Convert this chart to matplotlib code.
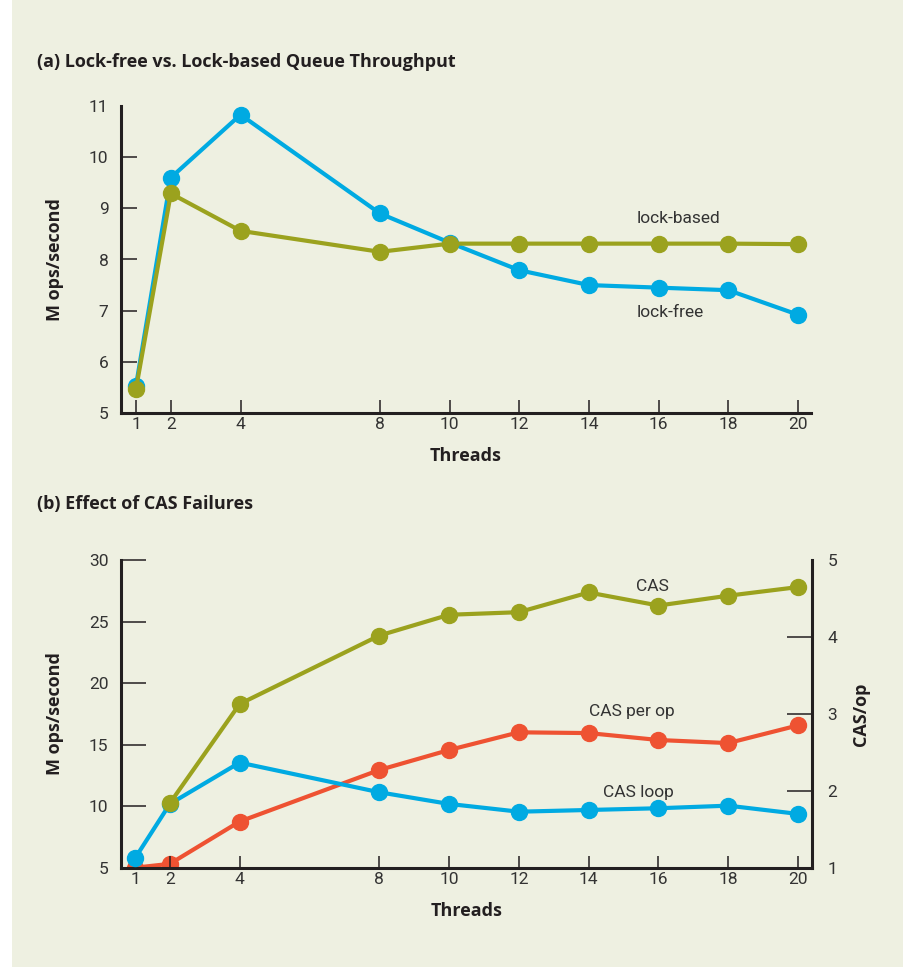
import matplotlib
matplotlib.use("Agg")
import matplotlib.pyplot as plt
from matplotlib.patches import Rectangle

# ---- data ----
threads = [1, 2, 4, 8, 10, 12, 14, 16, 18, 20]
lock_free = [5.53, 9.6, 10.83, 8.9, 8.33, 7.79, 7.5, 7.45, 7.4, 6.92]
lock_based = [5.47, 9.29, 8.56, 8.15, 8.31, 8.31, 8.31, 8.31, 8.31, 8.3]

cas = [float('nan'), 10.24, 18.3, 23.86, 25.55, 25.76, 27.36, 26.3, 27.1, 27.8]
cas_loop = [5.76, 10.18, 13.54, 11.13, 10.18, 9.55, 9.69, 9.83, 10.04, 9.37]
cas_per_op = [1.0, 1.05, 1.6, 2.27, 2.53, 2.76, 2.75, 2.66, 2.62, 2.85]

top_yticks = [5, 6, 7, 8, 9, 10, 11]
bot_yticks = [5, 10, 15, 20, 25, 30]
right_yticks = [1, 2, 3, 4, 5]

BG = "#EEF0E1"
BLUE = "#00AAE2"
GREEN = "#9BA21E"
RED = "#EE5232"
INK = "#231F20"
TXT = "#333333"

plt.rcParams['font.family'] = ['Roboto', 'DejaVu Sans']
BOLD = dict(family=['Open Sans', 'DejaVu Sans'], fontweight='bold', fontsize=13, color=INK)
TICKFS = 12.5

fig = plt.figure(figsize=(9.04, 9.67), dpi=100)
fig.patches.append(Rectangle((12 / 904, 0), 1 - 12 / 904, 1, transform=fig.transFigure,
                             facecolor=BG, edgecolor='none', zorder=-10))

W, H = 904, 967


def ax_rect(l, r, t, b):
    return [l / W, 1 - b / H, (r - l) / W, (b - t) / H]


def style(ax, ylen, xlen):
    ax.set_facecolor('none')
    for s in ['top', 'right']:
        ax.spines[s].set_visible(False)
    for s in ['left', 'bottom']:
        ax.spines[s].set_linewidth(2.2)
        ax.spines[s].set_color(INK)
    ax.tick_params(axis='y', direction='in', length=ylen, width=1.1, color=INK,
                   labelsize=TICKFS, labelcolor=TXT, pad=9)
    ax.tick_params(axis='x', direction='in', length=xlen, width=1.1, color=INK,
                   labelsize=TICKFS, labelcolor=TXT, pad=3)


# ---------- top ----------
ax1 = fig.add_axes(ax_rect(121, 811, 106, 413))
ax1.plot(threads, lock_free, color=BLUE, lw=3, marker='o', ms=11.5, zorder=3)
ax1.plot(threads, lock_based, color=GREEN, lw=3, marker='o', ms=11.5, zorder=4)
ax1.set_xlim(0.57, 20.37)
ax1.set_ylim(5, 11)
ax1.set_xticks(threads)
ax1.set_yticks(top_yticks)
style(ax1, 11.5, 9.4)
yt = ax1.yaxis.get_major_ticks()
yt[0].tick1line.set_visible(False)
yt[-1].tick1line.set_visible(False)
ax1.set_ylabel("M ops/second", labelpad=18, **BOLD)
ax1.set_xlabel("Threads", labelpad=11, **BOLD)
ax1.text(15.38, 8.81, "lock-based", fontsize=12.5, color=TXT, va='center', ha='left')
ax1.text(15.38, 6.97, "lock-free", fontsize=12.5, color=TXT, va='center', ha='left')
fig.text(37 / W, 1 - 62 / H, "(a) Lock-free vs. Lock-based Queue Throughput",
         va='center', ha='left', **BOLD)

# ---------- bottom ----------
ax2 = fig.add_axes(ax_rect(121, 812, 560, 867.7))
ax2.plot(threads, cas_loop, color=BLUE, lw=3, marker='o', ms=11.5, zorder=3)
ax2.plot(threads, cas, color=GREEN, lw=3, marker='o', ms=11.5, zorder=4)
ax2.set_xlim(0.6, 20.4)
ax2.set_ylim(5, 30)
ax2.set_xticks(threads)
ax2.set_yticks(bot_yticks)
style(ax2, 18, 8.6)
yt = ax2.yaxis.get_major_ticks()
yt[0].tick1line.set_visible(False)
yt[-1].tick1line.set_visible(False)
ax2.set_ylabel("M ops/second", labelpad=18, **BOLD)
ax2.set_xlabel("Threads", labelpad=11, **BOLD)

ax3 = ax2.twinx()
ax3.plot(threads, cas_per_op, color=RED, lw=3, marker='o', ms=11.5, zorder=5)
ax3.set_ylim(1, 5)
ax3.set_yticks(right_yticks)
ax3.set_facecolor('none')
for s in ['top', 'left', 'bottom']:
    ax3.spines[s].set_visible(False)
ax3.spines['right'].set_linewidth(2.2)
ax3.spines['right'].set_color(INK)
ax3.tick_params(axis='y', direction='in', length=18, width=1.1, color=INK,
                labelsize=TICKFS, labelcolor=TXT, pad=11)
rt = ax3.yaxis.get_major_ticks()
rt[0].tick2line.set_visible(False)
rt[-1].tick2line.set_visible(False)
ax3.set_ylabel("CAS/op", labelpad=11, **BOLD)
# draw the blue/green series above the red one
ax2.set_zorder(ax3.get_zorder() + 1)
ax2.patch.set_visible(False)

ax2.text(15.36, 27.82, "CAS", fontsize=12.5, color=TXT, va='center', ha='left', zorder=6)
ax2.text(14.0, 17.66, "CAS per op", fontsize=12.5, color=TXT, va='center', ha='left', zorder=6)
ax2.text(14.4, 11.15, "CAS loop", fontsize=12.5, color=TXT, va='center', ha='left', zorder=6)
fig.text(37 / W, 1 - 504 / H, "(b) Effect of CAS Failures",
         va='center', ha='left', **BOLD)

fig.savefig("out.png", dpi=100, facecolor='white')
